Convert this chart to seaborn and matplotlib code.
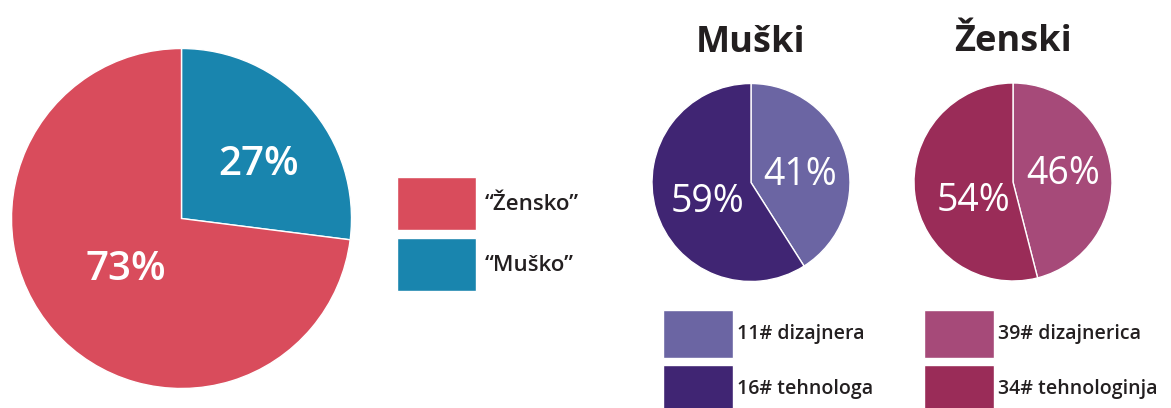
import numpy as np
import matplotlib
matplotlib.use("Agg")
import matplotlib.pyplot as plt
import seaborn as sns

sns.set_theme(style="white")
plt.rcParams["font.family"] = ["Open Sans", "DejaVu Sans"]

W, H = 1171, 408

# svi ispitanici
spol_labels = ["“Muško”", "“Žensko”"]
spol_pct = [27, 73]
spol_colors = ["#1985AE", "#D94C5C"]

# muški
muski_labels = ["11# dizajnera", "16# tehnologa"]
muski_pct = [41, 59]
muski_colors = ["#6B65A3", "#402573"]

# ženski
zenski_labels = ["39# dizajnerica", "34# tehnologinja"]
zenski_pct = [46, 54]
zenski_colors = ["#A64A79", "#9A2C58"]

TXT = "#231F20"

fig = plt.figure(figsize=(W / 100, H / 100), dpi=100)
fig.patch.set_facecolor("white")


def px_axes(cx, cy, r):
    return fig.add_axes([(cx - r) / W, 1 - (cy + r) / H, 2 * r / W, 2 * r / H])


def draw_pie(ax, vals, colors, label_pos, size, weight):
    # label_pos: (udaljenost od centra, kut u stupnjevima) za svaki postotak
    wedges, _, autotexts = ax.pie(
        vals, colors=colors, startangle=90, counterclock=False,
        autopct=lambda p: f"{p:.0f}%", pctdistance=0.5,
        textprops=dict(color="white", fontsize=size, fontweight=weight))
    for t, (d, a) in zip(autotexts, label_pos):
        t.set_position((d * np.cos(np.radians(a)), d * np.sin(np.radians(a))))
        t.set_va("center_baseline")
    ax.set_xlim(-1, 1)
    ax.set_ylim(-1, 1)
    return wedges


def px_legend(handles, labels, x, y, size, hl, hh, sp, pad):
    fig.legend(handles, labels, loc="upper left",
               bbox_to_anchor=(x / W, 1 - y / H), frameon=False,
               borderpad=0, borderaxespad=0, handlelength=hl, handleheight=hh,
               labelspacing=sp, handletextpad=pad,
               prop=dict(size=size, weight="semibold"), labelcolor=TXT)


# velika pita
ax0 = px_axes(181.5, 218.5, 170)
w0 = draw_pie(ax0, spol_pct, spol_colors, [(0.567, 37.4), (0.426, 220)], 29, "semibold")
px_legend([w0[1], w0[0]], [spol_labels[1], spol_labels[0]],
          397, 177, 16, 3.56, 3.3, 0.36, 0.4)

# muški
ax1 = px_axes(751, 182.5, 99)
w1 = draw_pie(ax1, muski_pct, muski_colors, [(0.51, 14.3), (0.46, 198.6)], 27, "normal")
ax1.set_title("Muški", fontsize=26, fontweight="bold", color=TXT, pad=23)
px_legend(w1, muski_labels, 663, 310, 14, 3.6, 3.42, 0.36, 0.2)

# ženski
ax2 = px_axes(1013, 182, 99)
w2 = draw_pie(ax2, zenski_pct, zenski_colors, [(0.52, 13.5), (0.43, 200.6)], 27, "normal")
ax2.set_title("Ženski", fontsize=26, fontweight="bold", color=TXT, pad=23)
px_legend(w2, zenski_labels, 924, 310, 14, 3.6, 3.42, 0.36, 0.2)

fig.savefig("out.png", dpi=100, facecolor="white")
